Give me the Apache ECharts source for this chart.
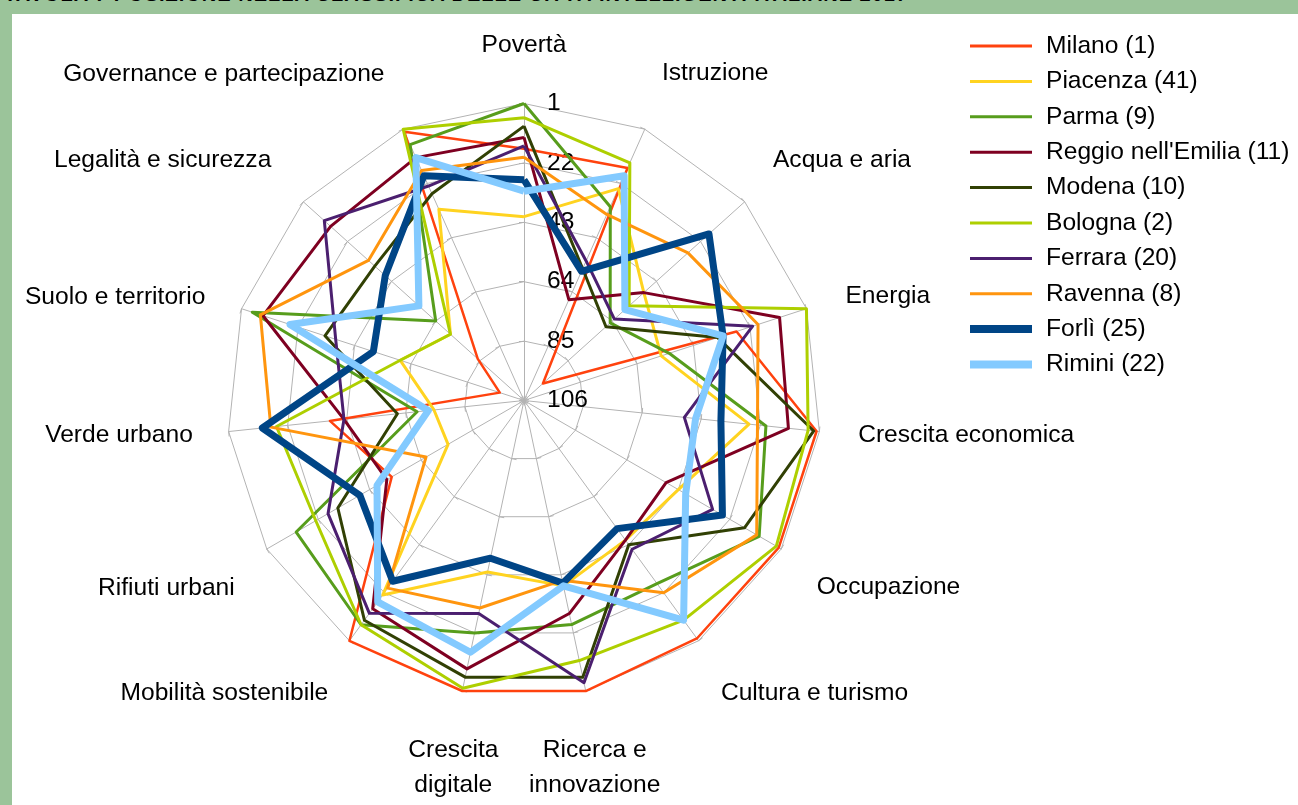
<!DOCTYPE html>
<html>
<head>
<meta charset="utf-8">
<script src="https://cdn.jsdelivr.net/npm/echarts@6/dist/echarts.min.js"></script>
<style>
html, body { margin: 0; padding: 0; }
body {
  width: 1298px;
  height: 805px;
  background: #9bc49a;
  position: relative;
  overflow: hidden;
  font-family: 'Liberation Sans', Arial, sans-serif;
}
.title {
  position: absolute;
  left: 4px;
  top: -16px;
  font-size: 20px;
  line-height: 20px;
  font-weight: bold;
  letter-spacing: 1px;
  white-space: nowrap;
  color: #000;
}
.panel {
  position: absolute;
  left: 12px;
  top: 14px;
  right: 0;
  bottom: 0;
  background: #fff;
}
#chart {
  position: absolute;
  left: 0;
  top: 0;
  width: 1298px;
  height: 805px;
}
</style>
</head>
<body>
<div class="title">TAVOLA 7 POSIZIONE NELLA CLASSIFICA DELLE CITTÀ INTELLIGENTI ITALIANE 2017</div>
<div class="panel"></div>
<div id="chart"></div>
<script>
// axes, clockwise from the top
const axisNames = [
  'Povertà', 'Istruzione', 'Acqua e aria', 'Energia', 'Crescita economica',
  'Occupazione', 'Cultura e turismo', 'Ricerca e\ninnovazione', 'Crescita\ndigitale',
  'Mobilità sostenibile', 'Rifiuti urbani', 'Verde urbano', 'Suolo e territorio',
  'Legalità e sicurezza', 'Governance e partecipazione'
]

const cities = [
  'Milano (1)', 'Piacenza (41)', 'Parma (9)', "Reggio nell'Emilia (11)", 'Modena (10)',
  'Bologna (2)', 'Ferrara (20)', 'Ravenna (8)', 'Forlì (25)', 'Rimini (22)'
]

// rank (1 = best) on each axis, same order as axisNames
const milano   = [17, 16, 97, 27, 2, 2, 2, 1, 1, 1, 52, 37, 97, 84, 2]
const piacenza = [41, 24, 49, 55, 26, 43, 45, 39, 44, 21, 75, 74, 60, 71, 32]
const parma    = [1, 31, 65, 52, 20, 10, 26, 25, 22, 8, 13, 68, 5, 64, 7]
const reggio   = [13, 67, 49, 11, 12, 48, 45, 29, 9, 15, 50, 42, 9, 14, 12]
const modena   = [9, 55, 67, 34, 3, 16, 43, 6, 6, 10, 30, 61, 32, 35, 26]
const bologna  = [6, 14, 56, 1, 5, 3, 10, 12, 2, 8, 21, 18, 60, 71, 1]
const ferrara  = [16, 52, 63, 21, 49, 29, 41, 4, 29, 13, 26, 42, 36, 11, 23]
const ravenna  = [20, 34, 28, 19, 23, 11, 22, 41, 31, 24, 66, 16, 8, 32, 17]
const forli    = [28, 56, 18, 32, 36, 25, 50, 40, 49, 27, 39, 13, 50, 40, 19]
const rimini   = [32, 19, 58, 32, 45, 40, 10, 39, 15, 18, 46, 72, 19, 56, 12]

const rankTicks = [1, 22, 43, 64, 85, 106]

const ranks = [milano, piacenza, parma, reggio, modena, bologna, ferrara, ravenna, forli, rimini]
const colors = ['#ff420e', '#ffd320', '#579d1c', '#7e0021', '#314004', '#aecf00', '#4b1f6f', '#ff950e', '#004586', '#83caff']
const widths = [2.5, 3, 3, 3, 3, 3, 3, 3, 7, 7]

// where each axis name sits (lh is used to nudge the text up or down)
const nameLayout = [
  { gap: 58, align: 'center', v: 'middle', lh: 26 },
  { gap: 42, align: 'left', v: 'bottom', lh: 35 },
  { gap: 38, align: 'left', v: 'bottom', lh: 32 },
  { gap: 41, align: 'left', v: 'middle', lh: 26 },
  { gap: 39, align: 'left', v: 'middle', lh: 26 },
  { gap: 41, align: 'left', v: 'top', lh: 36 },
  { gap: 38, align: 'left', v: 'top', lh: 43 },
  { gap: 43, align: 'center', v: 'top', lh: 35 },
  { gap: 43, align: 'center', v: 'top', lh: 35 },
  { gap: 36, align: 'right', v: 'top', lh: 46 },
  { gap: 37, align: 'right', v: 'top', lh: 41 },
  { gap: 36, align: 'right', v: 'middle', lh: 26 },
  { gap: 38, align: 'right', v: 'middle', lh: 26 },
  { gap: 43, align: 'right', v: 'bottom', lh: 26 },
  { gap: 46, align: 'right', v: 'bottom', lh: 26 }
]

const FONT = 'Liberation Sans'
const FONT_SIZE = 24.6
const topRank = rankTicks[0]
const lowRank = rankTicks[rankTicks.length - 1]
const flip = r => topRank + lowRank - r

// echarts radar runs counter-clockwise, so walk the axes backwards
const order = axisNames.map((_, i) => (axisNames.length - i) % axisNames.length)

const chart = echarts.init(document.getElementById('chart'))

const legendText = { color: '#000', fontSize: FONT_SIZE, lineHeight: 26, fontFamily: FONT, padding: [0, 0, 0, 9] }

const options = {
  animation: false,
  legend: [
    {
      data: cities.slice(0, 8),
      orient: 'vertical',
      left: 970,
      top: 33,
      padding: 0,
      itemWidth: 62,
      itemHeight: 3,
      itemGap: 9.4,
      icon: 'rect',
      selectedMode: false,
      textStyle: legendText
    },
    {
      data: cities.slice(8),
      orient: 'vertical',
      left: 970,
      top: 316,
      padding: 0,
      itemWidth: 62,
      itemHeight: 8,
      itemGap: 9.4,
      icon: 'rect',
      selectedMode: false,
      textStyle: legendText
    }
  ],
  radar: {
    center: [524, 400.5],
    radius: 297,
    startAngle: 90,
    splitNumber: rankTicks.length - 1,
    shape: 'polygon',
    indicator: order.map(k => ({
      name: axisNames[k],
      min: topRank,
      max: lowRank,
      nameGap: nameLayout[k].gap,
      nameTextStyle: {
        align: nameLayout[k].align,
        verticalAlign: nameLayout[k].v,
        lineHeight: nameLayout[k].lh
      },
      axisLabel: { show: k === 0 }
    })),
    axisName: { color: '#000', fontSize: FONT_SIZE, fontFamily: FONT },
    axisLine: { lineStyle: { color: '#b3b3b3', width: 1 } },
    splitLine: { lineStyle: { color: '#b3b3b3', width: 1 } },
    splitArea: { show: false },
    axisTick: { show: true, length: 5, lineStyle: { color: '#b3b3b3' } },
    axisLabel: {
      show: false,
      color: '#000',
      fontSize: FONT_SIZE,
      fontFamily: FONT,
      margin: -23,
      align: 'left',
      formatter: v => flip(v)
    }
  },
  series: [
    {
      type: 'radar',
      symbol: 'none',
      data: cities.map((name, i) => ({
        name,
        value: order.map(k => flip(ranks[i][k])),
        itemStyle: { color: colors[i] },
        lineStyle: { color: colors[i], width: widths[i], type: 'solid' }
      }))
    }
  ]
}

chart.setOption(options)
</script>
</body>
</html>
